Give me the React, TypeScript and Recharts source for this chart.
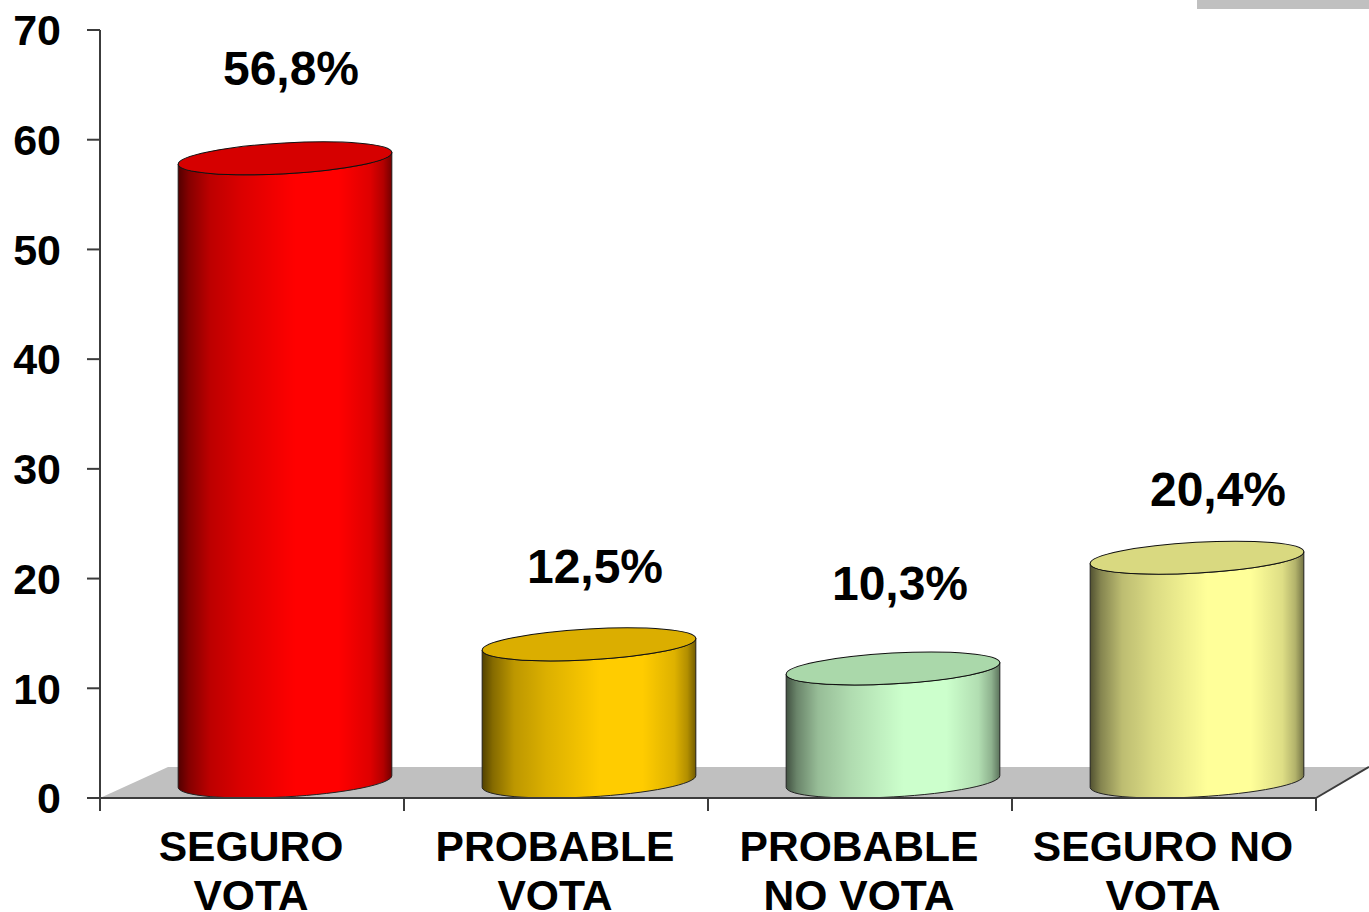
import { BarChart, Bar, XAxis, YAxis, ReferenceArea, LabelList } from "recharts";

const categories = ["SEGURO\nVOTA", "PROBABLE\nVOTA", "PROBABLE\nNO VOTA", "SEGURO NO\nVOTA"];
const values = [56.8, 12.5, 10.3, 20.4];
const yTicks = [0, 10, 20, 30, 40, 50, 60, 70];

const bodyColors = ["#ff0000", "#ffcc00", "#ccffcc", "#ffff99"];
const topColors = ["#d60000", "#dbae00", "#aad8aa", "#d9d980"];
// where each value label sits relative to the bar top
const labelLift = [90, 78, 85, 68];
const labelShift = [6, 6, 7, 21];

const data = categories.map((name, i) => ({ name, value: values[i] }));

const FONT = "'Liberation Sans', Arial, sans-serif";
const AXIS = "#3c3c3c";
const BAR_SHIFT = 33; // bars stand back on the floor, right of the tick centre
const TILT = 3.2;
const RY = 15.4;
const HALF_DEPTH = 16.5;

const shadeStops: [string, number][] = [
  ["0%", 0.68],
  ["5%", 0.48],
  ["15%", 0.26],
  ["30%", 0.14],
  ["55%", 0],
  ["75%", 0],
  ["90%", 0.13],
  ["96%", 0.3],
  ["100%", 0.55],
];

function Cylinder(props: any) {
  const { x, y, width, height, index } = props;
  const rx = width / 2;
  const cx = x + BAR_SHIFT + rx;
  const dx = rx * Math.cos((TILT * Math.PI) / 180);
  const dy = rx * Math.sin((TILT * Math.PI) / 180);
  const topY = y - HALF_DEPTH;
  const botY = y + height - HALF_DEPTH;
  const body =
    `M${cx - dx} ${topY + dy} L${cx - dx} ${botY + dy} ` +
    `A${rx} ${RY} ${-TILT} 0 0 ${cx + dx} ${botY - dy} ` +
    `L${cx + dx} ${topY - dy} ` +
    `A${rx} ${RY} ${-TILT} 0 1 ${cx - dx} ${topY + dy} Z`;
  return (
    <g>
      <path d={body} fill={bodyColors[index]} />
      <path d={body} fill="url(#cylShade)" stroke="#222" strokeWidth={1} />
      <ellipse
        cx={cx}
        cy={topY}
        rx={rx}
        ry={RY}
        transform={`rotate(${-TILT} ${cx} ${topY})`}
        fill={topColors[index]}
        stroke="#111"
        strokeWidth={1}
      />
    </g>
  );
}

function Floor(props: any) {
  const { x, y, width, height } = props;
  const bottom = y + height;
  return (
    <g>
      <polygon
        points={`${x},${bottom} ${x + 68},${y} ${x + width + 53},${y} ${x + width},${bottom}`}
        fill="#c0c0c0"
      />
      <line x1={x + width} y1={bottom} x2={x + width + 53} y2={y} stroke={AXIS} strokeWidth={2} />
    </g>
  );
}

function CategoryTick(props: any) {
  const { x, y, payload, width, visibleTicksCount, index } = props;
  const half = width / visibleTicksCount / 2;
  const axisY = y - 13;
  return (
    <g>
      {/* tick marks sit on the band edges, not the band centres */}
      <line x1={x - half} y1={axisY} x2={x - half} y2={axisY + 13} stroke={AXIS} strokeWidth={2} />
      {index === visibleTicksCount - 1 && (
        <line x1={x + half} y1={axisY} x2={x + half} y2={axisY + 13} stroke={AXIS} strokeWidth={2} />
      )}
      <text x={x - 1} textAnchor="middle" fontFamily={FONT} fontWeight="bold" fontSize={42.6} fill="#000">
        {String(payload.value)
          .split("\n")
          .map((line: string, i: number) => (
            <tspan key={i} x={x - 1} y={y + 50 + i * 49}>
              {line}
            </tspan>
          ))}
      </text>
    </g>
  );
}

function ValueLabel(props: any) {
  const { viewBox, index, value } = props;
  const box = viewBox ?? props;
  const cx = box.x + box.width / 2 + BAR_SHIFT + labelShift[index];
  return (
    <text
      x={cx}
      y={box.y - labelLift[index]}
      textAnchor="middle"
      fontFamily={FONT}
      fontWeight="bold"
      fontSize={48}
      fill="#000"
    >
      {Number(value).toFixed(1).replace(".", ",") + "%"}
    </text>
  );
}

export default function App() {
  return (
    <div style={{ position: "absolute", left: 0, top: 0, width: 1369, height: 912, overflow: "hidden", background: "#fff" }}>
      <div style={{ position: "absolute", left: 1197, top: 0, width: 172, height: 9, background: "#c0c0c0" }} />
      <BarChart
        width={1369}
        height={912}
        data={data}
        barSize={214}
        margin={{ top: 30, right: 53, bottom: 0, left: 0 }}
      >
        <defs>
          <linearGradient id="cylShade" x1="0" y1="0" x2="1" y2="0">
            {shadeStops.map(([offset, opacity]) => (
              <stop key={offset} offset={offset} stopColor="#000" stopOpacity={opacity} />
            ))}
          </linearGradient>
        </defs>
        <ReferenceArea y1={0} y2={2.83} shape={<Floor />} />
        <XAxis
          dataKey="name"
          height={114}
          interval={0}
          tickSize={13}
          tickMargin={0}
          tick={<CategoryTick />}
          tickLine={false}
          axisLine={{ stroke: AXIS, strokeWidth: 2 }}
        />
        <YAxis
          width={100}
          domain={[0, 70]}
          ticks={yTicks}
          interval={0}
          tickSize={13}
          tickMargin={26}
          tick={{ fontFamily: FONT, fontWeight: "bold", fontSize: 43, fill: "#000" }}
          axisLine={{ stroke: AXIS, strokeWidth: 2 }}
          tickLine={{ stroke: AXIS, strokeWidth: 2 }}
        />
        <Bar dataKey="value" shape={<Cylinder />} isAnimationActive={false}>
          <LabelList dataKey="value" content={<ValueLabel />} />
        </Bar>
      </BarChart>
    </div>
  );
}
